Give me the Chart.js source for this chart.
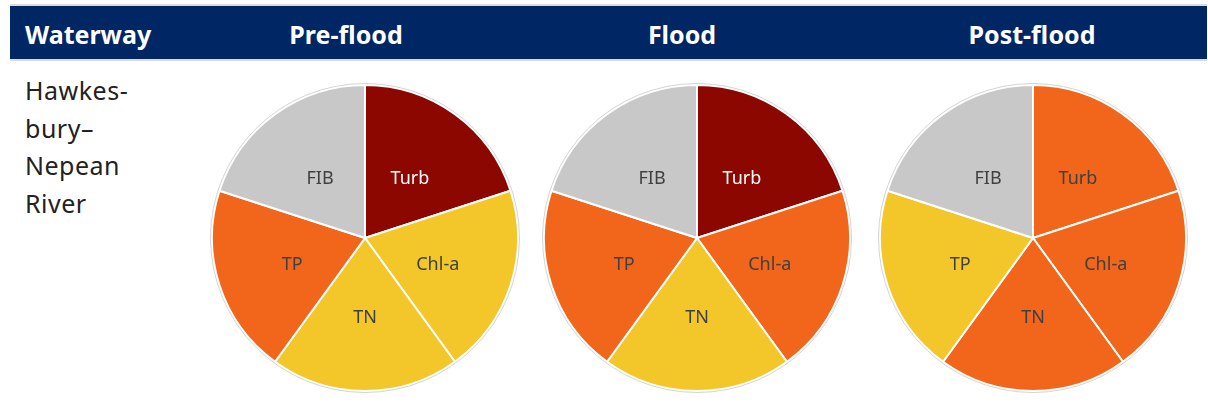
<!DOCTYPE html>
<html>
<head>
<meta charset="utf-8">
<script src="https://cdn.jsdelivr.net/npm/chart.js@4.4.1/dist/chart.umd.min.js"></script>
<style>
    html, body { margin: 0; padding: 0; background: #fff; }
    body { width: 1208px; height: 415px; position: relative; overflow: hidden; font-family: "Noto Sans", sans-serif; }
    .band { position: absolute; left: 10px; top: 4px; width: 1197px; height: 53px; background: #002664;
            border-top: 2px solid #dcdcdc; border-bottom: 2px solid #dcdcdc; }
    .head { position: absolute; top: 19px; color: #fff; font-weight: 700; font-size: 25px; line-height: 30px; white-space: nowrap; }
    .head.c { transform: translateX(-50%); }
    .waterway { position: absolute; left: 25px; top: 72px; font-size: 25px; line-height: 37.7px; letter-spacing: 0.5px; color: #222; }
    canvas { position: absolute; }
</style>
</head>
<body>
<div class="band"></div>
<div class="head" style="left:25px">Waterway</div>
<div class="head c" style="left:346px">Pre-flood</div>
<div class="head c" style="left:682px">Flood</div>
<div class="head c" style="left:1032px">Post-flood</div>
<div class="waterway">Hawkes-<br>bury&ndash;<br>Nepean<br>River</div>

<canvas id="pre" width="320" height="320" style="left:205px;top:78px"></canvas>
<canvas id="flood" width="320" height="320" style="left:537px;top:78px"></canvas>
<canvas id="post" width="320" height="320" style="left:873px;top:78px"></canvas>

<script>
(function() {
    "use strict";

    // indicators, clockwise from 12 o'clock
    var indicators = ["Turb", "Chl-a", "TN", "TP", "FIB"];
    // every indicator gets an equal share of the pie
    var shares = [1, 1, 1, 1, 1];

    // condition grade per indicator for each period
    var preFlood = ["severe", "moderate", "moderate", "high", "none"];
    var flood = ["severe", "high", "moderate", "high", "none"];
    var postFlood = ["high", "high", "high", "moderate", "none"];

    var gradeColours = {
        severe: "#8c0700",
        high: "#f2661b",
        moderate: "#f3c72a",
        none: "#c8c8c8"
    };
    var gradeText = {
        severe: "#ffffff",
        high: "#404040",
        moderate: "#404040",
        none: "#404040"
    };

    // slice names drawn inside each slice, plus a faint rim round the pie
    var sliceLabels = {
        id: "sliceLabels",
        afterDatasetsDraw: function(chart) {
            var ctx = chart.ctx;
            var meta = chart.getDatasetMeta(0);
            var grades = chart.data.datasets[0].grades;
            var first = meta.data[0];

            ctx.save();
            ctx.beginPath();
            ctx.arc(first.x, first.y, first.outerRadius + 1.5, 0, Math.PI * 2);
            ctx.strokeStyle = "#d4d4d4";
            ctx.lineWidth = 1;
            ctx.stroke();

            ctx.font = "18px 'Noto Sans', sans-serif";
            ctx.textAlign = "center";
            ctx.textBaseline = "middle";
            meta.data.forEach(function(arc, i) {
                var mid = (arc.startAngle + arc.endAngle) / 2;
                var r = arc.outerRadius * 0.5;
                ctx.fillStyle = gradeText[grades[i]];
                ctx.fillText(chart.data.labels[i], arc.x + Math.cos(mid) * r, arc.y + Math.sin(mid) * r + 3);
            });
            ctx.restore();
        }
    };

    function drawPie(id, grades) {
        return new Chart(document.getElementById(id), {
            type: "pie",
            data: {
                labels: indicators,
                datasets: [{
                    data: shares,
                    grades: grades,
                    backgroundColor: grades.map(function(g) { return gradeColours[g]; }),
                    borderColor: "#ffffff",
                    borderWidth: 2,
                    radius: 153
                }]
            },
            options: {
                responsive: false,
                animation: false,
                events: [],
                layout: { padding: 0 },
                plugins: {
                    legend: { display: false },
                    tooltip: { enabled: false }
                }
            },
            plugins: [sliceLabels]
        });
    }

    drawPie("pre", preFlood);
    drawPie("flood", flood);
    drawPie("post", postFlood);
})();
</script>
</body>
</html>
